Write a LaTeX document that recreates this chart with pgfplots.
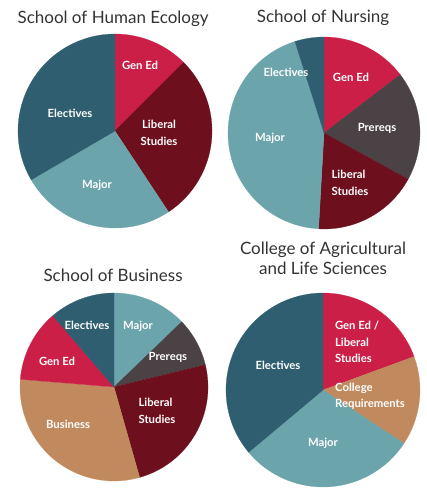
\documentclass[border=0pt]{standalone}
\usepackage{pgfplots}
\pgfplotsset{compat=1.18}
\usepackage{pgfplotstable}
\usepackage{fontspec}
\setmainfont{Lato}

\definecolor{gened}{HTML}{CB1F47}
\definecolor{liberal}{HTML}{6E0F1E}
\definecolor{major}{HTML}{6BA4AB}
\definecolor{electives}{HTML}{2E5E6F}
\definecolor{prereqs}{HTML}{4A4244}
\definecolor{business}{HTML}{C08A5E}

% shares in percent, clockwise from 12 o'clock
\pgfplotstableread{
slice value color
GenEd 12.5 gened
LiberalStudies 28.2 liberal
Major 25.9 major
Electives 33.4 electives
}\humaneco
\pgfplotstableread{
slice value color
GenEd 14.6 gened
Prereqs 18.4 prereqs
LiberalStudies 17.9 liberal
Major 44.2 major
Electives 4.9 electives
}\nursing
\pgfplotstableread{
slice value color
Major 12.8 major
Prereqs 8.4 prereqs
LiberalStudies 24.4 liberal
Business 30.7 business
GenEd 12.4 gened
Electives 11.3 electives
}\business
\pgfplotstableread{
slice value color
GenEdLiberal 19.4 gened
CollegeReq 14.9 business
Major 29.6 major
Electives 36.1 electives
}\agriculture

\newcommand\drawpie[2]{%
 \pgfplotsextra{%
  \pgfplotstablegetrowsof{#1}%
  \pgfmathtruncatemacro\lastrow{\pgfplotsretval-1}%
  \gdef\curang{90}%
  \pgfplotsforeachungrouped \i in {0,...,\lastrow}{%
    \pgfplotstablegetelem{\i}{value}\of{#1}\let\val\pgfplotsretval
    \pgfplotstablegetelem{\i}{color}\of{#1}\let\col\pgfplotsretval
    \pgfmathsetmacro\endang{\curang-3.6*\val}%
    \pgfmathsetmacro\sx{cos(\curang)}%
    \pgfmathsetmacro\sy{sin(\curang)}%
    \edef\tmp{\noexpand\fill[\col, draw=\col, line width=0.2pt] (axis cs:0,0) -- (axis cs:\sx,\sy) arc[start angle=\curang, end angle=\endang, radius=#2pt] -- cycle;}%
    \tmp
    \global\let\curang\endang
  }%
 }%
}

\pgfplotsset{
  pie/.style={hide axis, clip=false, anchor=center,
    x=#1pt, y=#1pt, xmin=-1, xmax=1, ymin=-1, ymax=1},
}
\tikzset{
  lab/.style={text=white, font=\bfseries\fontsize{11.3}{16.5}\selectfont, align=center, inner sep=0pt},
  ttl/.style={font=\fontsize{17}{20}\selectfont, anchor=base, inner sep=0pt, text=black!80},
}

\begin{document}
\begin{tikzpicture}
\useasboundingbox (0,0) rectangle (426pt,492pt);

% School of Human Ecology
\begin{axis}[pie=97, at={(115pt,361pt)}]
\drawpie{\humaneco}{97}
\node[ttl] at (axis cs:-0.02,1.113) {School of Human Ecology};
\node[lab] at (axis cs:0.258,0.680) {Gen Ed};
\node[lab] at (axis cs:0.454,-0.021) {Liberal\\Studies};
\node[lab] at (axis cs:-0.464,0.186) {Electives};
\node[lab] at (axis cs:-0.186,-0.557) {Major};
\end{axis}

% School of Nursing
\begin{axis}[pie=96, at={(324pt,359pt)}]
\drawpie{\nursing}{96}
\node[ttl] at (axis cs:-0.01,1.146) {School of Nursing};
\node[lab] at (axis cs:-0.396,0.635) {Electives};
\node[lab] at (axis cs:0.281,0.583) {Gen Ed};
\node[lab] at (axis cs:0.552,0.052) {Prereqs};
\node[lab] at (axis cs:-0.5625,-0.052) {Major};
\node[lab, align=left] at (axis cs:0.271,-0.521) {Liberal\\Studies};
\end{axis}

% School of Business
\begin{axis}[pie=94, at={(114pt,105pt)}]
\drawpie{\business}{94}
\node[ttl] at (axis cs:-0.01,1.117) {School of Business};
\node[lab] at (axis cs:-0.287,0.660) {Electives};
\node[lab] at (axis cs:0.255,0.649) {Major};
\node[lab] at (axis cs:0.574,0.319) {Prereqs};
\node[lab] at (axis cs:-0.606,0.277) {Gen Ed};
\node[lab, align=left] at (axis cs:0.457,-0.255) {Liberal\\Studies};
\node[lab] at (axis cs:-0.489,-0.394) {Business};
\end{axis}

% College of Agricultural and Life Sciences
\begin{axis}[pie=97, at={(323pt,102pt)}]
\drawpie{\agriculture}{97}
\node[ttl] at (axis cs:0,1.392) {College of Agricultural};
\node[ttl] at (axis cs:0,1.186) {and Life Sciences};
\node[lab, align=left] at (axis cs:0.351,0.495) {Gen Ed /\\Liberal\\Studies};
\node[lab, align=left] at (axis cs:0.485,-0.062) {College\\Requirements};
\node[lab] at (axis cs:-0.464,0.258) {Electives};
\node[lab] at (axis cs:0,-0.546) {Major};
\end{axis}
\end{tikzpicture}
\end{document}
